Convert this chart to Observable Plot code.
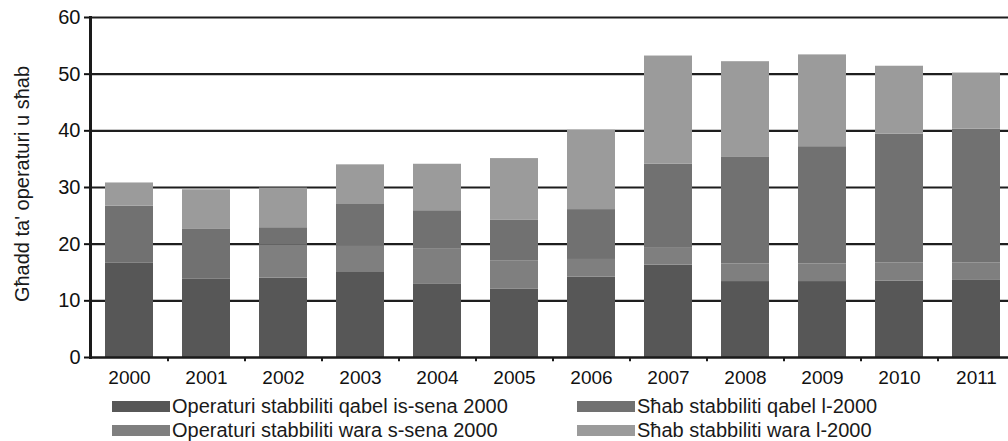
<!DOCTYPE html>
<html>
<head>
<meta charset="utf-8">
<script src="https://cdn.jsdelivr.net/npm/d3@7"></script>
<script src="https://cdn.jsdelivr.net/npm/@observablehq/plot@0.6"></script>
<style>
  html, body { margin: 0; padding: 0; background: #fff; }
  #wrap { position: relative; width: 1008px; height: 441px; overflow: hidden; font-family: "Liberation Sans", Arial, sans-serif; }
  .leg { position: absolute; display: flex; align-items: center; font-size: 20px; line-height: 22px; color: #1a1a1a; white-space: nowrap; }
  .sw { display: inline-block; width: 58px; height: 11px; margin-right: 2px; }
  #ytitle { position: absolute; left: 22px; top: 184px; transform: translate(-50%, -50%) rotate(-90deg); font-size: 20px; color: #1a1a1a; white-space: nowrap; }
</style>
</head>
<body>
<div id="wrap"></div>
<script>
const years = ["2000","2001","2002","2003","2004","2005","2006","2007","2008","2009","2010","2011"];
const seriesNames = [
  "Operaturi stabbiliti qabel is-sena 2000",
  "Operaturi stabbiliti wara s-sena 2000",
  "Sħab stabbiliti qabel l-2000",
  "Sħab stabbiliti wara l-2000"
];
const opQabel   = [16.7, 13.8, 14.0, 15.0, 13.0, 12.1, 14.2, 16.3, 13.4, 13.4, 13.5, 13.6];
const opWara    = [0.0,  0.0,  5.8,  4.6,  6.1,  4.9,  3.1,  3.1,  3.1,  3.1,  3.2,  3.1];
const shabQabel = [10.0, 8.9,  3.1,  7.4,  6.8,  7.2,  8.8,  14.7, 18.8, 20.7, 22.7, 23.6];
const shabWara  = [4.1,  6.9,  7.0,  7.0,  8.2,  10.9, 14.0, 19.1, 16.9, 16.2, 12.0, 9.9];
const yTicks = [0, 10, 20, 30, 40, 50, 60];
const yTitle = "Għadd ta' operaturi u sħab";
const colors = ["#575757", "#7f7f7f", "#717171", "#9b9b9b"];

const seriesValues = [opQabel, opWara, shabQabel, shabWara];
const table = [];
seriesNames.forEach((s, i) => years.forEach((y, j) => table.push({year: y, series: s, value: seriesValues[i][j]})));

const chart = Plot.plot({
  width: 1008,
  height: 395,
  marginTop: 17,
  marginBottom: 38,
  marginLeft: 90,
  marginRight: 0,
  style: {background: "transparent", color: "#111", fontFamily: "'Liberation Sans', Arial, sans-serif"},
  x: {domain: years, range: [90.5, 1014.5], paddingInner: 0.375, paddingOuter: 0.1875, label: null},
  y: {domain: [0, 60], range: [357, 17], label: null},
  color: {domain: seriesNames, range: colors},
  marks: [
    Plot.ruleY(yTicks.filter(d => d > 0), {stroke: "#1e1e1e", strokeWidth: 2.2}),
    Plot.barY(table, {x: "year", y: "value", fill: "series", order: seriesNames}),
    Plot.ruleY([0], {stroke: "#1a1a1a", strokeWidth: 2.6}),
    Plot.ruleX(years.slice(1), {x: d => d, dx: -38.5, y1: 0, y2: -0.75, stroke: "#1a1a1a", strokeWidth: 2}),
    Plot.axisY({ticks: yTicks, tickSize: 6, tickPadding: 4, fontSize: 20, strokeWidth: 2, label: null}),
    Plot.axisX({tickSize: 0, tickPadding: 13, fontSize: 19, label: null}),
    Plot.frame({anchor: "left", stroke: "#1a1a1a", strokeWidth: 3})
  ]
});
const wrap = document.getElementById("wrap");
wrap.appendChild(chart);

const yt = document.createElement("div");
yt.id = "ytitle";
yt.textContent = yTitle;
wrap.appendChild(yt);

const legPos = [
  {left: 112, top: 395},
  {left: 112, top: 419},
  {left: 577, top: 395},
  {left: 577, top: 419}
];
seriesNames.forEach((s, i) => {
  const d = document.createElement("div");
  d.className = "leg";
  d.style.left = legPos[i].left + "px";
  d.style.top = legPos[i].top + "px";
  const sw = document.createElement("span");
  sw.className = "sw";
  sw.style.background = colors[i];
  const t = document.createElement("span");
  t.textContent = s;
  d.appendChild(sw); d.appendChild(t);
  wrap.appendChild(d);
});
</script>
</body>
</html>
